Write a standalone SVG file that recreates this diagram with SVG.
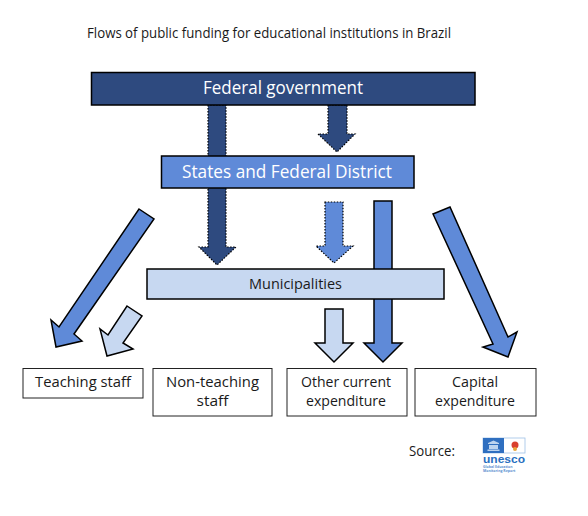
<svg xmlns="http://www.w3.org/2000/svg" width="588" height="516" viewBox="0 0 588 516">
<style>
text{font-family:"Open Sans","Noto Sans","Liberation Sans",sans-serif;text-anchor:middle;fill:#1a1a1a}
.box{stroke:#000;stroke-width:1.5}
.leaf{fill:#fff;stroke:#222;stroke-width:1}
.w{fill:#fff;font-size:19px}
.l{font-size:15px}
.dark{fill:#2e4a7f}
.mid{fill:#5f8ad8}
.light{fill:#c7d8f1}
.solid{stroke:#000;stroke-width:1.5;stroke-linejoin:miter}
.dot{stroke:#000;stroke-width:1.2;stroke-dasharray:1.5 1.5}
</style>
<rect width="588" height="516" fill="#fff"/>
<text x="269" y="38" font-size="14" textLength="364" lengthAdjust="spacingAndGlyphs">Flows of public funding for educational institutions in Brazil</text>
<g id="connectors">
<path class="dark dot" d="M208 105V247H199L217 265L236 247H226V105Z"/>
<path class="dark dot" d="M328 105V134H318L337 152L355 134H347V105Z"/>
<path class="mid dot" d="M325 202V246H316L334 263L353 246H343V202Z"/>
<path class="mid solid" d="M374 201V343H364L383 362L402 343H392V201Z"/>
<path class="light solid" d="M325 309V343H315L334 362L353 343H343V309Z"/>
<path class="mid solid" d="M139 209L154 219L74 334L82 341L56 347L51 320L59 327Z"/>
<path class="light solid" d="M127 306L142 316L123 343L133 349L107 356L100 329L108 335Z"/>
<path class="mid solid" d="M433 214L450 207L508 337L517 332L508 357L483 347L493 344Z"/>
</g>
<g id="federal"><rect class="box dark" x="91.500" y="72.500" width="383.500" height="32.500"/><text class="w" x="283" y="94" textLength="160" lengthAdjust="spacingAndGlyphs">Federal government</text></g>
<g id="states"><rect class="box mid" x="161.500" y="156" width="252.500" height="32"/><text class="w" x="287" y="178" textLength="210" lengthAdjust="spacingAndGlyphs">States and Federal District</text></g>
<g id="municipalities"><rect class="box light" x="147" y="269" width="297" height="30"/><text class="l" x="295.500" y="289" textLength="93" lengthAdjust="spacingAndGlyphs">Municipalities</text></g>
<g id="teaching"><rect class="leaf" x="23" y="368.500" width="120" height="29.500"/><text class="l" x="83" y="387" textLength="96" lengthAdjust="spacingAndGlyphs">Teaching staff</text></g>
<g id="nonteaching"><rect class="leaf" x="153" y="368.500" width="119" height="47.500"/><text class="l" x="212.500" y="387" textLength="93" lengthAdjust="spacingAndGlyphs">Non-teaching</text><text class="l" x="212.500" y="406" textLength="32" lengthAdjust="spacingAndGlyphs">staff</text></g>
<g id="other"><rect class="leaf" x="287" y="368.500" width="120" height="47.500"/><text class="l" x="346" y="387" textLength="90" lengthAdjust="spacingAndGlyphs">Other current</text><text class="l" x="346" y="406" textLength="80" lengthAdjust="spacingAndGlyphs">expenditure</text></g>
<g id="capital"><rect class="leaf" x="415" y="368.500" width="121" height="47.500"/><text class="l" x="475" y="387" textLength="46" lengthAdjust="spacingAndGlyphs">Capital</text><text class="l" x="475" y="406" textLength="80" lengthAdjust="spacingAndGlyphs">expenditure</text></g>
<g id="source"><text class="l" x="432" y="456" textLength="46" lengthAdjust="spacingAndGlyphs">Source:</text>
<rect x="483" y="438" width="42" height="15" fill="#fff" stroke="#9fc1e6" stroke-width="0.8"/>
<rect x="483" y="438" width="21" height="15" fill="#2f6fc0"/>
<path d="M488 443L493.500 440.500L499 443V444H488ZM489 445H498V449H489ZM487.500 449.500H499.500V451H487.500Z" fill="#bcd4ef"/>
<circle cx="515" cy="445" r="3.500" fill="#d9402f"/><circle cx="515" cy="449" r="2" fill="#e8a33a"/>
<text x="504" y="463" style="font-size:11px;font-weight:700;fill:#2a6fc0;font-family:'Liberation Sans',sans-serif" textLength="42" lengthAdjust="spacingAndGlyphs">unesco</text>
<text x="483" y="468" style="font-size:3.500px;font-weight:700;fill:#5b8fd0;text-anchor:start">Global Education</text>
<text x="483" y="472" style="font-size:3.500px;font-weight:700;fill:#5b8fd0;text-anchor:start">Monitoring Report</text></g>
</svg>
